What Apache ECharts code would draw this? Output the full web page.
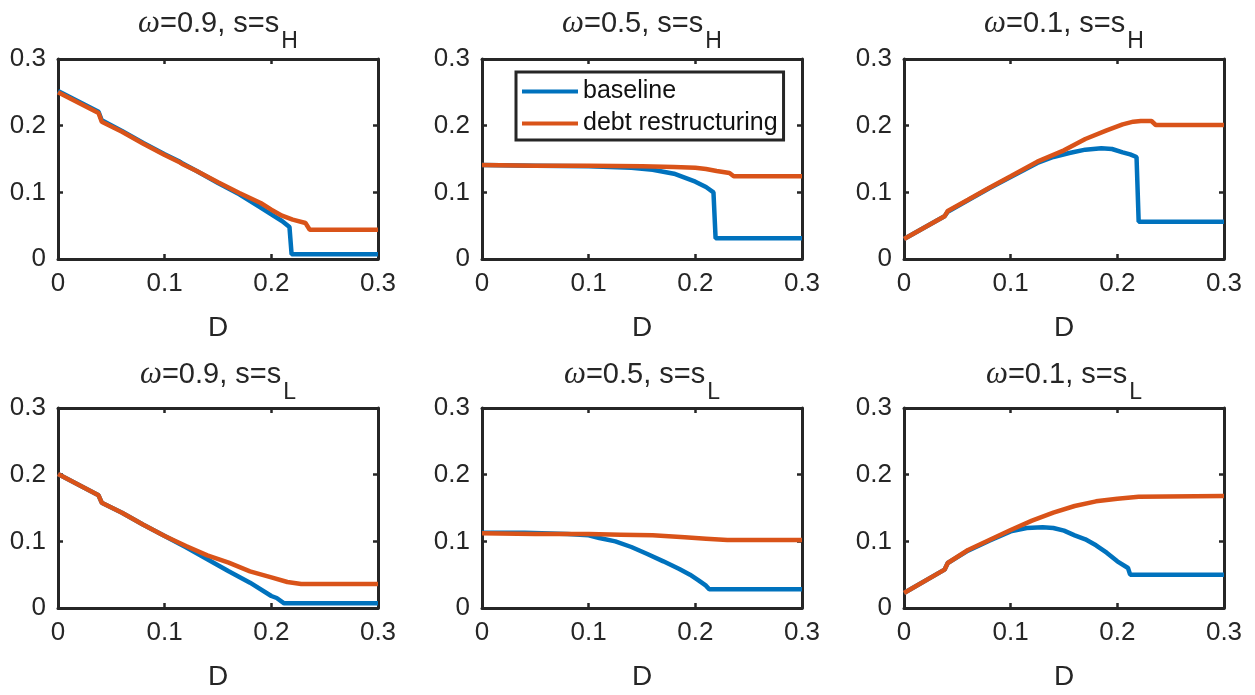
<!DOCTYPE html>
<html>
<head>
<meta charset="utf-8">
<script src="https://cdn.jsdelivr.net/npm/echarts@6/dist/echarts.min.js"></script>
<style>
  html, body { margin: 0; background: #fff; }
  #chart { width: 1255px; height: 695px; }
</style>
</head>
<body>
<div id="chart"></div>
<script>
// 2x3 panel figure: baseline vs debt restructuring, for three omegas and two states.
const BLUE = '#0072BD', ORANGE = '#D95319', INK = '#262626'
const FONT = '"Liberation Sans", Arial, sans-serif'

const omegas = ['0.9', '0.5', '0.1']
const states = ['H', 'L']
const seriesNames = ['baseline', 'debt restructuring']

// omega=0.9, s=sH
const p1BaseX = [0, 0.038, 0.041, 0.06, 0.08, 0.1, 0.113, 0.116, 0.13, 0.15, 0.17, 0.19, 0.2, 0.21, 0.217, 0.219, 0.3]
const p1BaseY = [0.252, 0.221, 0.208, 0.192, 0.174, 0.157, 0.147, 0.144, 0.132, 0.114, 0.097, 0.077, 0.067, 0.057, 0.048, 0.007, 0.007]
const p1DebtX = [0, 0.038, 0.041, 0.06, 0.08, 0.1, 0.113, 0.116, 0.13, 0.15, 0.17, 0.19, 0.2, 0.21, 0.22, 0.232, 0.236, 0.3]
const p1DebtY = [0.25, 0.219, 0.206, 0.191, 0.173, 0.156, 0.146, 0.143, 0.132, 0.115, 0.099, 0.084, 0.074, 0.065, 0.059, 0.054, 0.044, 0.044]

// omega=0.5, s=sH
const p2BaseX = [0, 0.05, 0.1, 0.14, 0.16, 0.18, 0.2, 0.21, 0.217, 0.219, 0.3]
const p2BaseY = [0.141, 0.14, 0.139, 0.137, 0.134, 0.128, 0.116, 0.108, 0.1, 0.031, 0.031]
const p2DebtX = [0, 0.05, 0.1, 0.15, 0.18, 0.2, 0.21, 0.22, 0.232, 0.236, 0.3]
const p2DebtY = [0.141, 0.14, 0.14, 0.139, 0.138, 0.137, 0.135, 0.132, 0.129, 0.124, 0.124]

// omega=0.1, s=sH
const p3BaseX = [0, 0.038, 0.041, 0.06, 0.08, 0.1, 0.125, 0.14, 0.155, 0.17, 0.185, 0.195, 0.205, 0.212, 0.218, 0.22, 0.3]
const p3BaseY = [0.03, 0.064, 0.071, 0.088, 0.106, 0.123, 0.144, 0.153, 0.159, 0.164, 0.166, 0.165, 0.16, 0.157, 0.153, 0.056, 0.056]
const p3DebtX = [0, 0.038, 0.041, 0.06, 0.08, 0.1, 0.125, 0.15, 0.17, 0.19, 0.205, 0.215, 0.222, 0.232, 0.236, 0.3]
const p3DebtY = [0.03, 0.064, 0.072, 0.089, 0.107, 0.124, 0.146, 0.163, 0.18, 0.193, 0.202, 0.206, 0.207, 0.207, 0.201, 0.201]

// omega=0.9, s=sL
const p4BaseX = [0, 0.038, 0.041, 0.06, 0.08, 0.1, 0.12, 0.14, 0.16, 0.18, 0.2, 0.205, 0.212, 0.3]
const p4BaseY = [0.201, 0.169, 0.158, 0.143, 0.125, 0.108, 0.091, 0.073, 0.055, 0.038, 0.018, 0.015, 0.007, 0.007]
const p4DebtX = [0, 0.038, 0.041, 0.06, 0.08, 0.1, 0.12, 0.14, 0.16, 0.18, 0.2, 0.215, 0.228, 0.3]
const p4DebtY = [0.201, 0.169, 0.158, 0.143, 0.125, 0.108, 0.093, 0.079, 0.068, 0.055, 0.046, 0.039, 0.036, 0.036]

// omega=0.5, s=sL
const p5BaseX = [0, 0.04, 0.08, 0.1, 0.11, 0.125, 0.14, 0.155, 0.17, 0.185, 0.195, 0.203, 0.21, 0.213, 0.3]
const p5BaseY = [0.113, 0.113, 0.111, 0.109, 0.105, 0.1, 0.0915, 0.081, 0.07, 0.0585, 0.05, 0.0415, 0.0335, 0.028, 0.028]
const p5DebtX = [0, 0.05, 0.1, 0.13, 0.16, 0.19, 0.21, 0.23, 0.3]
const p5DebtY = [0.112, 0.111, 0.111, 0.11, 0.109, 0.106, 0.104, 0.102, 0.102]

// omega=0.1, s=sL
const p6BaseX = [0, 0.038, 0.041, 0.06, 0.08, 0.1, 0.115, 0.13, 0.14, 0.15, 0.16, 0.17, 0.18, 0.19, 0.2, 0.21, 0.212, 0.3]
const p6BaseY = [0.0225, 0.0575, 0.0675, 0.086, 0.101, 0.115, 0.12, 0.121, 0.12, 0.116, 0.109, 0.103, 0.094, 0.083, 0.07, 0.06, 0.05, 0.05]
const p6DebtX = [0, 0.038, 0.041, 0.06, 0.08, 0.1, 0.12, 0.14, 0.16, 0.18, 0.2, 0.22, 0.3]
const p6DebtY = [0.0225, 0.0575, 0.0675, 0.087, 0.102, 0.117, 0.131, 0.143, 0.153, 0.16, 0.164, 0.167, 0.168]

const panels = [
  [p1BaseX, p1BaseY, p1DebtX, p1DebtY],
  [p2BaseX, p2BaseY, p2DebtX, p2DebtY],
  [p3BaseX, p3BaseY, p3DebtX, p3DebtY],
  [p4BaseX, p4BaseY, p4DebtX, p4DebtY],
  [p5BaseX, p5BaseY, p5DebtX, p5DebtY],
  [p6BaseX, p6BaseY, p6DebtX, p6DebtY],
]

// layout (pixels)
const colLeft = [58, 482, 904]
const rowTop = [59, 408]
const boxW = 320, boxH = 200
const titleMid = [24, 375]

const zip = (xs, ys) => xs.map((x, i) => [x, ys[i]])
const fmt = v => (v === 0 ? '0' : v.toFixed(1))

const grid = [], xAxis = [], yAxis = [], series = [], title = []

const axisBase = () => ({
  type: 'value', min: 0, max: 0.3, interval: 0.1,
  axisLine: { show: true, onZero: false, lineStyle: { color: INK, width: 3 } },
  axisTick: { show: true, inside: true, length: 5, lineStyle: { color: INK, width: 2.5 } },
  splitLine: { show: false },
})

panels.forEach((p, i) => {
  const r = Math.floor(i / 3), c = i % 3
  grid.push({ left: colLeft[c], top: rowTop[r], width: boxW, height: boxH, containLabel: false })

  xAxis.push({
    ...axisBase(), gridIndex: i, position: 'bottom',
    axisLabel: { color: INK, fontSize: 26, fontFamily: FONT, margin: 12, formatter: fmt },
    name: 'D', nameLocation: 'middle', nameGap: 55,
    nameTextStyle: { color: INK, fontSize: 28, fontFamily: FONT },
  })
  xAxis.push({ ...axisBase(), gridIndex: i, position: 'top', axisLabel: { show: false } })
  yAxis.push({
    ...axisBase(), gridIndex: i, position: 'left',
    axisLabel: { color: INK, fontSize: 26, fontFamily: FONT, margin: 12, formatter: fmt },
  })
  yAxis.push({ ...axisBase(), gridIndex: i, position: 'right', axisLabel: { show: false } })

  ;[BLUE, ORANGE].forEach((color, k) => {
    series.push({
      name: seriesNames[k], type: 'line', xAxisIndex: 2 * i, yAxisIndex: 2 * i,
      data: zip(p[2 * k], p[2 * k + 1]),
      showSymbol: false, symbol: 'none', color,
      lineStyle: { color, width: 4.5 }, z: 2 + k,
    })
  })

  title.push({
    text: `{w|ω}{t|=${omegas[c]}, s=s}{sub|${states[r]}}`,
    left: colLeft[c] + boxW / 2, textAlign: 'center',
    top: titleMid[r] - 30, padding: 0,
    textStyle: {
      fontWeight: 'normal',
      rich: {
        w: { fontFamily: '"Liberation Serif", serif', fontStyle: 'italic', fontWeight: 'normal', fontSize: 31, color: INK },
        t: { fontFamily: FONT, fontWeight: 'normal', fontSize: 29, color: INK },
        sub: { fontFamily: FONT, fontWeight: 'normal', fontSize: 23, color: INK, padding: [36, 0, 0, 2] },
      },
    },
  })
})

const chart = echarts.init(document.getElementById('chart'), null, { renderer: 'canvas' })
chart.setOption({
  animation: false,
  backgroundColor: '#fff',
  title, grid, xAxis, yAxis, series,
  legend: {
    data: seriesNames, orient: 'vertical', left: 516, top: 72,
    icon: 'rect', itemWidth: 56, itemHeight: 4, itemGap: 7,
    padding: [7, 6, 4, 6],
    borderColor: INK, borderWidth: 3, backgroundColor: '#fff',
    textStyle: { color: '#111', fontSize: 25, fontFamily: FONT },
  },
})
</script>
</body>
</html>
